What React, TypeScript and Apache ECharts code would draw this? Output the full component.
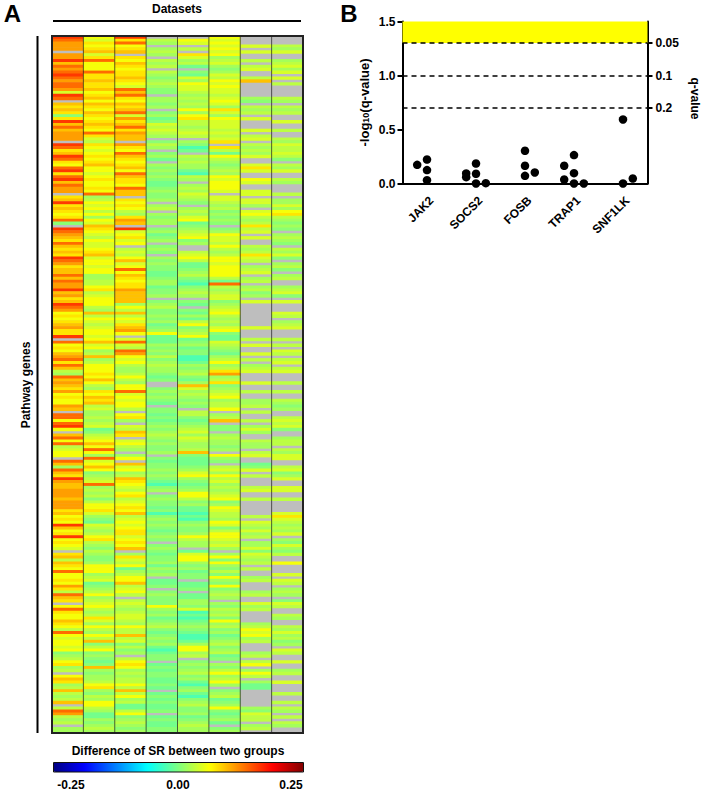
import React, { useEffect, useRef } from "react";
import * as echarts from "echarts";

// Heatmap levels (x = no data, drawn grey)
const levels: Record<string, number> = {
  z: -0.024, a: -0.006, b: 0.006, c: 0.018, d: 0.03, e: 0.043, f: 0.058,
  g: 0.075, h: 0.093, i: 0.11, j: 0.135, k: 0.16,
};
const dataset1 = [
  "kjiii xiikh jijkj ijjie kjxhg hgbgk", "hjhii ixkjg hkjgf jkgjk hjiix ghkgh",
  "gfgjb xkjih gjhgh gkjig hhjhj iikhi", "ghkji fgfgh iggkx jfgfh ijgjh dcjhi",
  "hgifg ffihx jjfjk fxhjf jdeff xjhcj", "hgkih hiiih iiigh fgfkh fgkfg fexgh",
  "dhgfj ffgfi gdjhg xfjgf fhgfd jfeff", "efbcd fgcdx fhgcd hdcdh xdjid cdxcc",
];
const dataset2 = [
  "fegfg hegjf ffjgg hgghf ghfhg fhgfg", "hgfjg edgfe fgfgh ffefg ffgfj cdfef",
  "dfcfe hgfed feefg heffe ffccd dfgde", "fffdc hdfed effef hefcd hcdff fgfhf",
  "dcgfh ghdec cdcde abdef hfjfc jefhf", "bcdej cdcdb dffge cbaed cdfgd cbdcb",
  "bcfff cdeab cdfcd efdcd gecfd cfdhb", "dfbcb abhcb ccdfg cbdcf fdcaa cbcdc",
];
const dataset3 = [
  "kgjfg hxgfh gfggh gfejh jgfhg hjeig", "hjgih hxigf jhgfg hfjhg gfjhh xgfgf",
  "dcgih xkefg efxde dfhef jfhgf ggihh", "hhcfd hdfeg hifxe jedji fefdc cdfdc",
  "ffjef effdx fgcxe dhgxe fdcxc fxhef", "cdhgf edfgd efgfh defef ggefg fhxcg",
  "edfac dffhd efdxd edcde edcfd dhdeb", "dbcxd fgfcd cddfd hdfcd aadfb cdcbc",
];
const dataset4 = [
  "xdcxc dcxdc dxdcb cdcbb xccbc xbcab", "ededc xbdcx bcaxc bcbcb aabcb bcxcd",
  "xcbcc xbcab cxbcb xcbcb baabc cabbc", "xbcdb bcbca bcfaa acbcb dbcdc cbabx",
  "xbcbc baxbb ababc bcdcb cbbcx babbc", "bcbaz bcxbc bbabz bcbcb abcbx bcbab",
  "bcacb cxaab xbcbb bfcbc abcdb abcbc", "azabb xabab baaba xabab aabxa baabb",
];
const dataset5 = [
  "xfexd xgecd axbae cfeed cdcdc fcfgd", "dcded xcbza xdcdc cazdc xcdce dcbxc",
  "dcefa bcdef bcxxd efdaa bcdba zbcdc", "xbaxb acadf bcdfa bcabb zzacb cdbac",
  "hecdc bcbxd dbabc deced ccdhb aaabc", "efcba bcffd bcaaz azbcb bcfdc cxaef",
  "fcbca bbxaa bxaac cbeza zabcb azzac", "ffcdx bcbcd bcazb cazbc dbbca bcdcc",
];
const dataset6 = [
  "fefef efcde cbced fefee defec gecfe", "eeded egxgd afdcb cdcfe fffex eedcd",
  "bcbcb xbcfe edfdc dffef fffda jdcde", "ebcde fdcdc efbaa edcba cdfcd gicdg",
  "bcdef cddfx cdhxb bxcdc cbcxf cbxde", "cfdec dcdef bcfed dcfeb dffed ecxcf",
  "bfcbd bfcbf bcdcx cbdcd bfcdb cabcd", "bcdab xcbdf cdfcx bcdab cfbab caxbc",
];
const dataset7 = [
  "xxxex exxdx dexxd hxxxx xcbxd cdxex", "xxexd exdcd cexxe gexxf exxee xeecx",
  "efdcd gdexe xxdcd gedxc dexcd xcdbc", "xexxx xxxxx exxxd xexxe xdxcd exxxe",
  "xxdxx ccdxd xxdxc ecxxd ccxde xxabe", "xdxxx dexxd xxxxx dxedc ecdxc cebed",
  "cdxdx xcdxx xcdxx ecdxx xxcdf efcdx", "xxcdx dfxcf dxcaa xxxxx xcbed dxcdx",
];
const dataset8 = [
  "xxxdc exxcd ecexe xdxxx xdcxd cdxxe", "xxdxx dcedd edbxd cexxd cxxxd xccec",
  "fgdcb cbxcd cbxdc ebxcd bxcdx xcdeb", "xexxx edxcd exxxd xdxed xdexd exxxd",
  "xxdxx dcbcx xdede bxxcd dxdce exxde", "bcexx eexxd xxxxe gedcd cexcb ecbdx",
  "xfxxx exedx cdcxb edxxd cxxdc ecdbc", "xedxx exxcd xxexx xdxxd xdcxd xdcxx",
];
const datasets = [dataset1, dataset2, dataset3, dataset4, dataset5, dataset6, dataset7, dataset8];
const jetColors = ["#00007f", "#0000ff", "#007fff", "#00ffff", "#7fff7f", "#ffff00", "#ff7f00", "#ff0000", "#7f0000"];
const colorbarTicks = ["-0.25", "0.00", "0.25"];

// Panel B
const genes = ["JAK2", "SOCS2", "FOSB", "TRAP1", "SNF1LK"];
// [gene index, side slot, -log10(q)]
const jak2Points = [[0, -1, 0.173], [0, 0, 0.222], [0, 0, 0.124], [0, 0, 0.031]];
const socs2Points = [[1, -1, 0.093], [1, -1, 0.059], [1, 0, 0.185], [1, 0, 0.09], [1, 0, 0], [1, 1, 0.003]];
const fosbPoints = [[2, 0, 0.303], [2, 0, 0.164], [2, 0, 0.071], [2, 1, 0.102]];
const trap1Points = [[3, -1, 0.164], [3, -1, 0.037], [3, 0, 0.263], [3, 0, 0.096], [3, 0, 0], [3, 1, 0]];
const snf1lkPoints = [[4, 0, 0.593], [4, 0, 0], [4, 1, 0.046]];
const qValues = [0.05, 0.1, 0.2];
const qPositions = [1.301, 1, 0.699];
const leftTicks = [0, 0.5, 1, 1.5];

const FONT = "'Liberation Sans', Arial, sans-serif";

export default function App() {
  const ref = useRef<HTMLDivElement>(null);
  useEffect(() => {
    const chart = echarts.init(ref.current!, undefined, { renderer: "svg" });
    const columns = datasets.map((bands) => bands.join("").replace(/ /g, ""));
    const rowCount = columns[0].length;
    const heat: number[][] = [];
    columns.forEach((col, c) => {
      for (let r = 0; r < rowCount; r++) {
        const ch = col[r];
        if (ch !== "x") heat.push([c, r, levels[ch]]);
      }
    });
    const allPoints = [...jak2Points, ...socs2Points, ...fosbPoints, ...trap1Points, ...snf1lkPoints];
    const scatter = allPoints.map(([g, s, y]) => [g + 0.5 + s * 0.2, y]);
    const text = (t: string, x: number, y: number, size: number, extra: any = {}) => ({
      type: "text",
      x,
      y,
      silent: true,
      ...extra,
      style: {
        text: t, fill: "#000", font: `bold ${size}px ${FONT}`,
        textAlign: "center", textVerticalAlign: "middle", ...(extra.style || {}),
      },
    });
    const staticGraphics = [
      text("A", 12.5, 13.5, 24),
      text("B", 349, 13.5, 24),
      text("Datasets", 177, 9, 12),
      text("Pathway genes", 26, 385, 12, { rotation: Math.PI / 2 }),
      text("Difference of SR between two groups", 178, 751, 12),
      { type: "line", silent: true, shape: { x1: 53, y1: 21, x2: 301, y2: 21 }, style: { stroke: "#000", lineWidth: 2 } },
      { type: "line", silent: true, shape: { x1: 37.5, y1: 36, x2: 37.5, y2: 733 }, style: { stroke: "#000", lineWidth: 2 } },
      { type: "rect", silent: true, z: 10, shape: { x: 53.5, y: 762.5, width: 250, height: 9.5 }, style: { fill: "none", stroke: "#111", lineWidth: 1 } },
      text(colorbarTicks[0], 71, 785, 12),
      text(colorbarTicks[1], 178, 785, 12),
      text(colorbarTicks[2], 291, 785, 12),
    ];

    chart.setOption({
      animation: false,
      backgroundColor: "#fff",
      textStyle: { fontFamily: FONT },
      grid: [
        { left: 52, top: 36, width: 251, height: 697, show: true, backgroundColor: "#bebebe", borderWidth: 0 },
        { left: 402.5, top: 21.5, width: 245, height: 162, containLabel: false },
      ],
      visualMap: {
        type: "continuous", seriesIndex: 0, min: -0.25, max: 0.25, orient: "horizontal",
        left: 53, top: 762, itemWidth: 10, itemHeight: 251, padding: 0, calculable: false,
        text: ["", ""], showLabel: false, hoverLink: false, inRange: { color: jetColors },
        textStyle: { color: "transparent", fontSize: 1 },
      },
      xAxis: [
        { type: "category", gridIndex: 0, data: columns.map((_, i) => `D${i + 1}`), show: false },
        {
          type: "category", gridIndex: 1, data: genes,
          axisLine: { lineStyle: { color: "#000", width: 2 } },
          axisTick: { alignWithLabel: true, length: 4, lineStyle: { color: "#000", width: 2 } },
          axisLabel: { show: false },
          splitLine: { show: false },
        },
        { type: "value", gridIndex: 1, min: 0, max: 5, show: false },
      ],
      yAxis: [
        { type: "category", gridIndex: 0, inverse: true, show: false, data: Array.from({ length: rowCount }, (_, i) => String(i)) },
        {
          type: "value", gridIndex: 1, min: 0, max: 1.5, interval: 0.5, position: "left",
          name: "-log{sub|10}(q-value)", nameLocation: "middle", nameGap: 32, nameRotate: 90,
          nameTextStyle: {
            color: "#000", fontWeight: "bold", fontSize: 13, fontFamily: FONT,
            rich: { sub: { fontSize: 9, fontWeight: "bold", fontFamily: FONT, verticalAlign: "bottom", padding: [4, 0, 0, 0], color: "#000" } },
          },
          axisLine: { show: true, lineStyle: { color: "#000", width: 2 } },
          axisTick: { show: true, length: 5, lineStyle: { color: "#000", width: 2 } },
          axisLabel: {
            color: "#000", fontWeight: "bold", fontSize: 12, margin: 7, fontFamily: FONT,
            customValues: leftTicks, formatter: (v: number) => v.toFixed(1),
          },
          splitLine: { show: false },
        },
        {
          type: "value", gridIndex: 1, min: 0, max: 1.5, position: "right",
          name: "q-value", nameLocation: "middle", nameGap: 41, nameRotate: -90,
          nameTextStyle: { color: "#000", fontWeight: "bold", fontSize: 12, fontFamily: FONT, padding: [0, 8, 0, 0] },
          axisLine: { show: true, onZero: false, lineStyle: { color: "#000", width: 2 } },
          axisTick: { show: true, length: 5, customValues: qPositions, lineStyle: { color: "#000", width: 2 } },
          axisLabel: {
            color: "#000", fontWeight: "bold", fontSize: 12, margin: 8, fontFamily: FONT,
            customValues: qPositions,
            formatter: (v: number) => String(qValues[qPositions.indexOf(v)]),
          },
          splitLine: { show: false },
        },
      ],
      series: [
        {
          type: "heatmap", xAxisIndex: 0, yAxisIndex: 0, data: heat, silent: true,
          progressive: 0, itemStyle: { borderWidth: 0 }, emphasis: { disabled: true },
        },
        {
          type: "custom", xAxisIndex: 0, yAxisIndex: 0, z: 5, silent: true,
          data: columns.map((_, i) => [i, 0]),
          renderItem: (params: any, api: any) => {
            const cs = params.coordSys;
            const i = api.value(0);
            const bw = cs.width / columns.length;
            const children: any[] = [];
            if (i > 0) {
              children.push({
                type: "line",
                shape: { x1: cs.x + i * bw, y1: cs.y, x2: cs.x + i * bw, y2: cs.y + cs.height },
                style: { stroke: "rgba(30,30,30,0.7)", lineWidth: 1 },
              });
            } else {
              children.push({
                type: "rect",
                shape: { x: cs.x, y: cs.y, width: cs.width, height: cs.height },
                style: { fill: "none", stroke: "#222", lineWidth: 2 },
              });
            }
            return { type: "group", children };
          },
        },
        {
          type: "scatter", xAxisIndex: 2, yAxisIndex: 1, data: scatter, symbol: "circle", symbolSize: 8.5,
          itemStyle: { color: "#000", opacity: 1 }, silent: true, z: 4,
          markArea: {
            silent: true, itemStyle: { color: "#ffff00", opacity: 1 },
            data: [[{ yAxis: qPositions[0] }, { yAxis: 1.5 }]],
          },
          markLine: {
            silent: true, symbol: "none", label: { show: false },
            lineStyle: { color: "#000", type: [5, 4], width: 1.5, opacity: 1 },
            data: qPositions.map((y) => ({ yAxis: y })),
          },
        },
      ],
      graphic: staticGraphics,
    });

    // Gene labels hang from the axis ticks, rotated 45 degrees
    const geneLabels = genes.map((g, i) =>
      text(g, chart.convertToPixel({ xAxisIndex: 1 }, i) + 4.5, 198.5, 12, {
        rotation: Math.PI / 4,
        style: { textAlign: "right" },
      })
    );
    chart.setOption({ graphic: [...staticGraphics, ...geneLabels] });
    return () => chart.dispose();
  }, []);
  return <div ref={ref} style={{ position: "fixed", left: 0, top: 0, width: 704, height: 792 }} />;
}
